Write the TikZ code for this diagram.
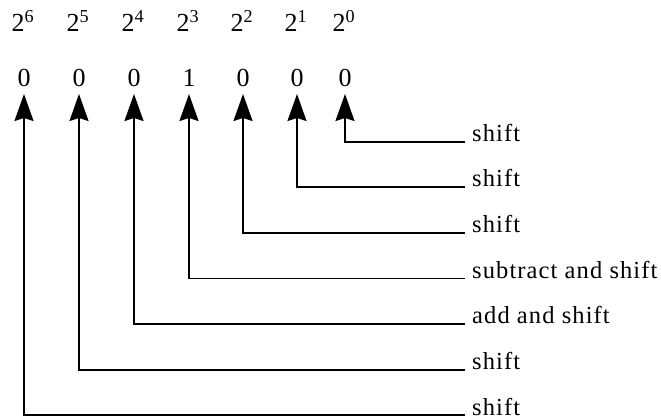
\documentclass[tikz,border=0pt]{standalone}
\usepackage{fontspec}
\setmainfont{Liberation Serif}[LetterSpace=4.5]
\usetikzlibrary{arrows.meta}
\begin{document}
\begin{tikzpicture}[x=1pt,y=-1pt,
  txt/.style={inner sep=0pt,font=\fontsize{24.5}{28}\selectfont},
  big/.style={inner sep=0pt,font=\fontsize{26}{30}\selectfont},
  pow/.style={big,anchor=base},
  digit/.style={big,anchor=base},
  lbl/.style={txt,anchor=base west},
  conn/.style={line width=1.8pt,-{Stealth[length=27pt,width=19pt,inset=3pt]}}]
\useasboundingbox (0,0) rectangle (661,419);
% columns
\def\cA{24}\def\cB{79}\def\cC{134}\def\cD{189}\def\cE{243}\def\cF{297}\def\cG{345}
% powers
\node[pow] (t6) at (\cA-1,32) {2\textsuperscript{6}};
\node[pow] (t5) at (\cB-1,32) {2\textsuperscript{5}};
\node[pow] (t4) at (\cC-1,32) {2\textsuperscript{4}};
\node[pow] (t3) at (\cD-1,32) {2\textsuperscript{3}};
\node[pow] (t2) at (\cE-1,32) {2\textsuperscript{2}};
\node[pow] (t1) at (\cF-1,32) {2\textsuperscript{1}};
\node[pow] (t0) at (\cG-1,32) {2\textsuperscript{0}};
% digits
\node[digit] (d6) at (\cA,87) {0};
\node[digit] (d5) at (\cB,87) {0};
\node[digit] (d4) at (\cC,87) {0};
\node[digit] (d3) at (\cD,87) {1};
\node[digit] (d2) at (\cE,87) {0};
\node[digit] (d1) at (\cF,87) {0};
\node[digit] (d0) at (\cG,87) {0};
% labels
\node[lbl] (l0) at (472,142) {shift};
\node[lbl] (l1) at (472,187) {shift};
\node[lbl] (l2) at (472,233) {shift};
\node[lbl] (l3) at (472,278.5) {subtract and shift};
\node[lbl] (l4) at (472,324) {add and shift};
\node[lbl] (l5) at (472,370) {shift};
\node[lbl] (l6) at (472,415) {shift};
% connectors
\foreach \i in {0,...,6}{
  \draw[conn] ([xshift=-7pt]l\i.base west) -| ([yshift=-7pt]d\i.base);
}
\end{tikzpicture}
\end{document}
